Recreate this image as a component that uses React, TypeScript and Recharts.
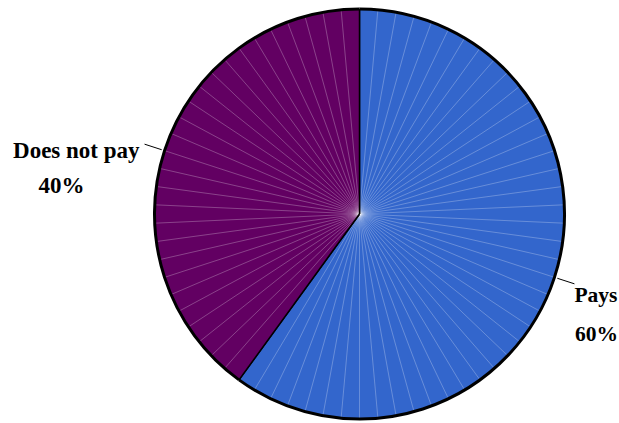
import React from "react";
import { PieChart, Pie, Cell, Sector } from "recharts";

const categories = ["Pays", "Does not pay"];
const shares = [60, 40];
const percentLabels = ["60%", "40%"];
const colors = ["#3366CC", "#620062"];

const data = categories.map((name, i) => ({ name, value: shares[i], pct: percentLabels[i] }));

const RAD = Math.PI / 180;
const SEAM_STEP = 360 / 70;

const pt = (cx: number, cy: number, r: number, a: number) => [cx + r * Math.cos(a * RAD), cy - r * Math.sin(a * RAD)];

const SeamedSector = (props: any) => {
  const { cx, cy, outerRadius, startAngle, endAngle, fill } = props;
  const dir = endAngle < startAngle ? -1 : 1;
  const span = Math.abs(endAngle - startAngle);
  const seams: React.ReactNode[] = [];
  for (let d = SEAM_STEP; d < span - 1; d += SEAM_STEP) {
    const a = startAngle + dir * d;
    const [x, y] = pt(cx, cy, outerRadius, a);
    seams.push(
      <line key={d} x1={cx} y1={cy} x2={x} y2={y} stroke="#ffffff" strokeOpacity={0.33} strokeWidth={0.8} />
    );
  }
  const [sx, sy] = pt(cx, cy, outerRadius, startAngle);
  const [ex, ey] = pt(cx, cy, outerRadius, endAngle);
  const large = span > 180 ? 1 : 0;
  const sweep = dir < 0 ? 1 : 0;
  return (
    <g>
      <Sector cx={cx} cy={cy} innerRadius={0} outerRadius={outerRadius} startAngle={startAngle} endAngle={endAngle} fill={fill} stroke="none" />
      {seams}
      <line x1={cx} y1={cy} x2={sx} y2={sy} stroke="#000" strokeWidth={1.5} />
      <line x1={cx} y1={cy} x2={ex} y2={ey} stroke="#000" strokeWidth={1.5} />
      <path d={`M${sx},${sy} A${outerRadius},${outerRadius} 0 ${large} ${sweep} ${ex},${ey}`} fill="none" stroke="#000" strokeWidth={3} />
    </g>
  );
};

const renderLabel = (props: any) => {
  const { cx, cy, midAngle, outerRadius, name, payload } = props;
  const [x1, y1] = pt(cx, cy, outerRadius + 3, midAngle);
  const [x2, y2] = pt(cx, cy, outerRadius + 21, midAngle);
  const left = Math.cos(midAngle * RAD) < 0;
  const font = { fontFamily: "'Liberation Serif', 'Times New Roman', serif", fontWeight: 700, fill: "#000" };
  return (
    <g>
      <line x1={x1} y1={y1} x2={x2} y2={y2} stroke="#000" strokeWidth={1} />
      {left ? (
        <>
          <text x={x2 - 5} y={y2 + 14} textAnchor="end" fontSize={23} {...font}>{name}</text>
          <text x={x2 - 83} y={y2 + 49} textAnchor="middle" fontSize={23} {...font}>{payload.pct}</text>
        </>
      ) : (
        <>
          <text x={x2} y={y2 + 18} textAnchor="start" fontSize={21.5} {...font}>{name}</text>
          <text x={x2 + 22} y={y2 + 57} textAnchor="middle" fontSize={21.5} {...font}>{payload.pct}</text>
        </>
      )}
    </g>
  );
};

export default function App() {
  return (
    <div style={{ position: "absolute", left: 0, top: 0, width: 619, height: 423, overflow: "hidden" }}>
      <PieChart width={619} height={423} margin={{ top: 0, right: 0, bottom: 0, left: 0 }}>
        <Pie
          data={data}
          dataKey="value"
          nameKey="name"
          cx={359.5}
          cy={214}
          innerRadius={0}
          outerRadius={205}
          startAngle={90}
          endAngle={-270}
          stroke="none"
          shape={SeamedSector}
          label={renderLabel}
          labelLine={false}
          isAnimationActive={false}
        >
          {data.map((d, i) => (
            <Cell key={d.name} fill={colors[i]} />
          ))}
        </Pie>
      </PieChart>
    </div>
  );
}
